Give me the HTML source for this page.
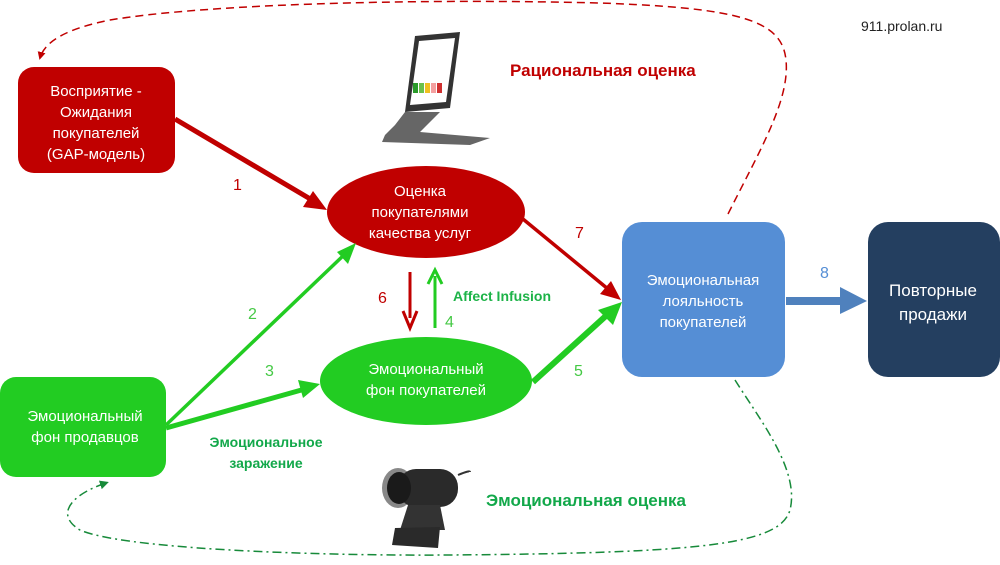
<!DOCTYPE html>
<html><head><meta charset="utf-8"><style>
html,body{margin:0;padding:0;background:#fff;width:1000px;height:565px;overflow:hidden}
svg text{font-family:"Liberation Sans","DejaVu Sans",sans-serif}
</style></head><body>
<svg width="1000" height="565" viewBox="0 0 1000 565" xmlns="http://www.w3.org/2000/svg">
<defs>
<marker id="ra" markerWidth="8" markerHeight="8" refX="6" refY="4" orient="auto" markerUnits="userSpaceOnUse"><path d="M0,0 L8,4 L0,8 z" fill="#c00000"/></marker>
<marker id="ga" markerWidth="9" markerHeight="9" refX="6" refY="4.5" orient="auto" markerUnits="userSpaceOnUse"><path d="M0,0 L9,4.5 L0,9 z" fill="#178a3a"/></marker>
</defs>
<path d="M728,214 C760,150 790,100 786,60 C782,20 740,8 600,3 C400,-2 200,5 110,20 C70,28 45,40 40,58" fill="none" stroke="#c00000" stroke-width="1.5" stroke-dasharray="8,5" marker-end="url(#ra)"/>
<path d="M735,380 C760,420 800,470 790,510 C780,545 700,553 450,555 C300,556 120,548 80,530 C55,515 70,495 106,483" fill="none" stroke="#178a3a" stroke-width="1.5" stroke-dasharray="9,4,2,4" marker-end="url(#ga)"/>

<rect x="18" y="67" width="157" height="106" rx="16" fill="#c00000"/>
<text fill="#fff" font-size="15" text-anchor="middle"><tspan x="96" y="96">Восприятие -</tspan><tspan x="96" y="117">Ожидания</tspan><tspan x="96" y="138">покупателей</tspan><tspan x="96" y="159">(GAP-модель)</tspan></text>

<ellipse cx="426" cy="212" rx="99" ry="46" fill="#c00000"/>
<text fill="#fff" font-size="15" text-anchor="middle"><tspan x="420" y="196">Оценка</tspan><tspan x="420" y="217">покупателями</tspan><tspan x="420" y="238">качества услуг</tspan></text>

<ellipse cx="426" cy="381" rx="106" ry="44" fill="#22cc22"/>
<text fill="#fff" font-size="15" text-anchor="middle"><tspan x="426" y="374">Эмоциональный</tspan><tspan x="426" y="395">фон покупателей</tspan></text>

<rect x="0" y="377" width="166" height="100" rx="16" fill="#22cc22"/>
<text fill="#fff" font-size="15" text-anchor="middle"><tspan x="85" y="421">Эмоциональный</tspan><tspan x="85" y="442">фон продавцов</tspan></text>

<rect x="622" y="222" width="163" height="155" rx="20" fill="#558ed5"/>
<text fill="#fff" font-size="15" text-anchor="middle"><tspan x="703" y="285">Эмоциональная</tspan><tspan x="703" y="306">лояльность</tspan><tspan x="703" y="327">покупателей</tspan></text>

<rect x="868" y="222" width="132" height="155" rx="20" fill="#243f60"/>
<text fill="#fff" font-size="17" text-anchor="middle"><tspan x="933" y="296">Повторные</tspan><tspan x="933" y="320">продажи</tspan></text>

<rect x="786" y="297" width="56" height="8" fill="#4f81bd"/>
<path d="M840,287 L867,301 L840,314 z" fill="#4f81bd"/>

<line x1="175" y1="119" x2="312" y2="200" stroke="#c00000" stroke-width="5"/>
<path d="M327,210 L303,207 L313,191 z" fill="#c00000"/>
<line x1="512" y1="210" x2="608" y2="289" stroke="#c00000" stroke-width="3.5"/>
<path d="M621,300 L600,294 L611,281 z" fill="#c00000"/>
<line x1="410" y1="272" x2="410" y2="318" stroke="#c00000" stroke-width="3"/>
<path d="M403,311 L410,328 L417,311" fill="none" stroke="#c00000" stroke-width="3"/>
<line x1="435" y1="328" x2="435" y2="276" stroke="#22cc22" stroke-width="3"/>
<path d="M428,284 L435,270 L442,284" fill="none" stroke="#22cc22" stroke-width="3"/>
<line x1="166" y1="425" x2="345" y2="254" stroke="#22cc22" stroke-width="3.5"/>
<path d="M356,243 L348,264 L337,252 z" fill="#22cc22"/>
<line x1="166" y1="428" x2="305" y2="389" stroke="#22cc22" stroke-width="5"/>
<path d="M320,384 L303,398 L298,380 z" fill="#22cc22"/>
<line x1="533" y1="382" x2="608" y2="314" stroke="#22cc22" stroke-width="6"/>
<path d="M622,302 L613,325 L598,310 z" fill="#22cc22"/>

<text font-size="16" fill="#c00000" x="233" y="190">1</text>
<text font-size="16" fill="#45c945" x="248" y="319">2</text>
<text font-size="16" fill="#45c945" x="265" y="376">3</text>
<text font-size="16" fill="#45c945" x="445" y="327">4</text>
<text font-size="16" fill="#45c945" x="574" y="376">5</text>
<text font-size="16" fill="#c00000" x="378" y="303">6</text>
<text font-size="16" fill="#c00000" x="575" y="238">7</text>
<text font-size="16" fill="#558ed5" x="820" y="278">8</text>

<text font-size="14" font-weight="bold" fill="#1db348" x="453" y="301">Affect Infusion</text>
<text font-size="14" font-weight="bold" fill="#12a84a" text-anchor="middle"><tspan x="266" y="447">Эмоциональное</tspan><tspan x="266" y="468">заражение</tspan></text>
<text font-size="17" font-weight="bold" fill="#c00000" x="510" y="76">Рациональная оценка</text>
<text font-size="17" font-weight="bold" fill="#12a84a" x="486" y="506">Эмоциональная оценка</text>
<text font-size="14" fill="#222" x="861" y="31">911.prolan.ru</text>

<g>
<path d="M415,36 L460,32 L450,108 L405,112 z" fill="#333"/>
<path d="M419,41 L455,38 L446,102 L410,105 z" fill="#fff"/>
<rect x="413" y="83" width="5" height="10" fill="#2a9a2a"/><rect x="419" y="83" width="5" height="10" fill="#6bc04a"/><rect x="425" y="83" width="5" height="10" fill="#f0c020"/><rect x="431" y="83" width="5" height="10" fill="#f4a0a0"/><rect x="437" y="83" width="5" height="10" fill="#d03030"/>
<path d="M405,112 L395,125 L385,135 L382,142 L470,145 L490,138 L420,132 L440,112 z" fill="#666"/>
</g>
<g>
<ellipse cx="398" cy="488" rx="16" ry="20" fill="#888"/>
<rect x="398" y="469" width="60" height="38" rx="18" fill="#2a2a2a"/>
<ellipse cx="399" cy="488" rx="12" ry="16" fill="#1a1a1a"/>
<path d="M458,475 Q470,470 470,472" stroke="#333" stroke-width="2" fill="none"/>
<path d="M408,505 L440,505 L445,530 L400,530 z" fill="#333"/>
<path d="M395,528 L440,527 L438,548 L392,545 z" fill="#2a2a2a"/>
</g>
</svg>
</body></html>
